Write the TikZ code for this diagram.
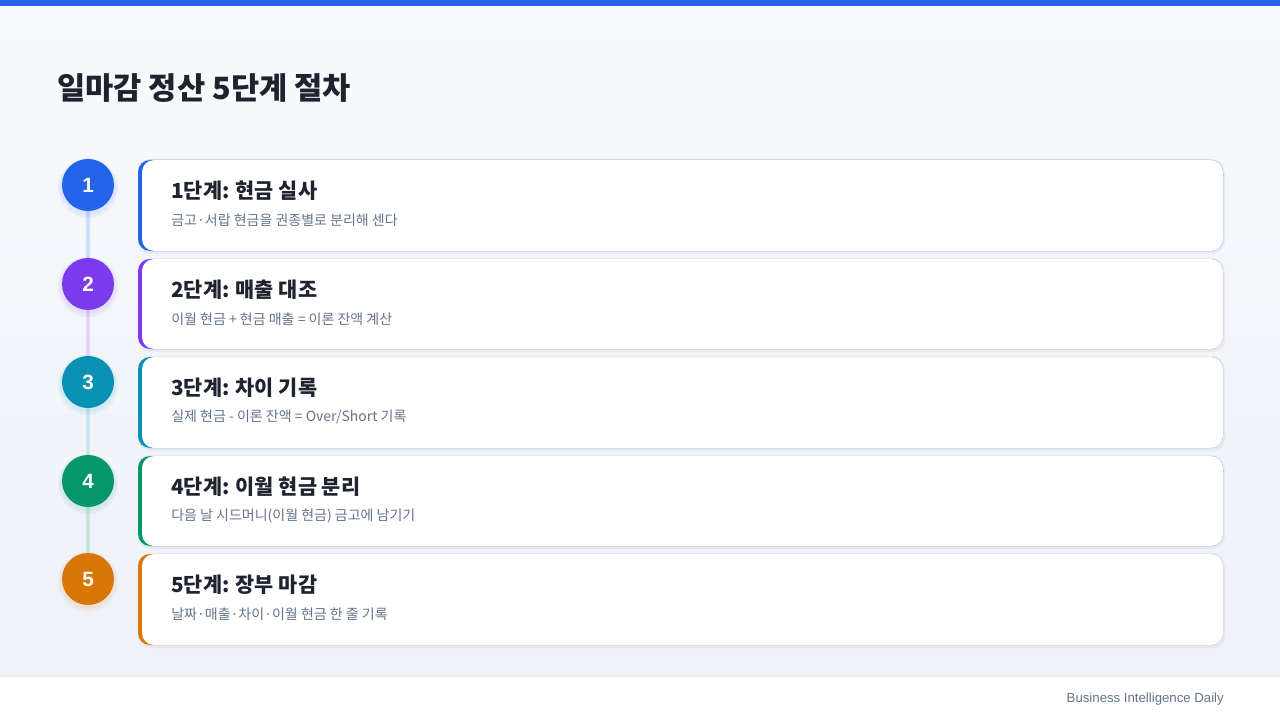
\documentclass[tikz,border=0pt]{standalone}
\usepackage{fontspec}
\newfontfamily\kr{Noto Sans CJK KR}
\setmainfont{Noto Sans CJK KR}
\newfontfamily\lib{Liberation Sans}
\definecolor{cblue}{HTML}{2563EB}
\definecolor{cpurple}{HTML}{7C3AED}
\definecolor{cteal}{HTML}{0891B2}
\definecolor{cgreen}{HTML}{059669}
\definecolor{corange}{HTML}{D97706}
\definecolor{ink}{HTML}{1E2330}
\definecolor{subink}{HTML}{64748B}
\definecolor{cardline}{HTML}{E3E7EE}
\definecolor{bgtop}{HTML}{F8FAFC}
\definecolor{bgbot}{HTML}{EEF1F8}
\tikzset{
  card/.style={rounded corners=12*0.75pt},
  numcircle/.style={circle, minimum size=52*0.75pt, inner sep=0pt, text=white, font=\lib\bfseries\fontsize{15.5}{15.5}\selectfont},
  ctitle/.style={anchor=west, inner sep=0pt, text=ink, font=\kr\bfseries\fontsize{15.6}{18}\selectfont},
  csub/.style={anchor=west, inner sep=0pt, text=subink, font=\kr\fontsize{10.5}{12}\selectfont},
  link/.style={line width=4*0.75pt}
}
\begin{document}
\begin{tikzpicture}[x=0.75pt,y=-0.75pt]
\useasboundingbox (0,0) rectangle (1280,720);
\shade[top color=bgtop, bottom color=bgbot] (0,0) rectangle (1280,676);
\fill[cblue] (0,0) rectangle (1280,6);
\fill[white] (0,676) rectangle (1280,720);
\draw[cardline, line width=0.75pt] (0,676) -- (1280,676);
\node[anchor=west, inner sep=0pt, text=ink, font=\kr\bfseries\fontsize{23}{26}\selectfont] (title) at (57,88) {일마감 정산 5단계 절차};
\node[anchor=east, inner sep=0pt, text=subink, font=\lib\fontsize{9.9}{12}\selectfont] (footer) at (1224,699) {Business Intelligence Daily};
\foreach \i/\y in {1/185, 2/284, 3/381, 4/480, 5/578}{
  \coordinate (c\i) at (88,\y);
}
\draw[link, cblue!22] (c1) -- (c2);
\draw[link, cpurple!22] (c2) -- (c3);
\draw[link, cteal!22] (c3) -- (c4);
\draw[link, cgreen!22] (c4) -- (c5);
\foreach \i/\top/\bot/\c/\t/\s in {
  1/160/251/cblue/{1단계: 현금 실사}/{금고·서랍 현금을 권종별로 분리해 센다},
  2/259/349/cpurple/{2단계: 매출 대조}/{이월 현금 + 현금 매출 = 이론 잔액 계산},
  3/357/448/cteal/{3단계: 차이 기록}/{실제 현금 - 이론 잔액 = Over/Short 기록},
  4/456/546/cgreen/{4단계: 이월 현금 분리}/{다음 날 시드머니(이월 현금) 금고에 남기기},
  5/554/645/corange/{5단계: 장부 마감}/{날짜·매출·차이·이월 현금 한 줄 기록}}{
  \fill[black, opacity=0.04, card] (138,\top+2) rectangle (1225,\bot+3);
  \fill[cardline, card] (138,\top-1) rectangle (1224,\bot+1);
  \fill[\c, card] (138,\top) rectangle (1223,\bot);
  \fill[white, card] (142,\top) rectangle (1223,\bot);
  \node[ctitle] (t\i) at (171,\top+31) {\t};
  \node[csub] (s\i) at (171,\top+60) {\s};
  \fill[\c, opacity=0.06] (88,\top+25+3) circle (30);
  \fill[\c, opacity=0.06] (88,\top+25+2) circle (28);
  \node[numcircle, fill=\c] (n\i) at (88,\top+25) {\i};
}
\end{tikzpicture}
\end{document}
